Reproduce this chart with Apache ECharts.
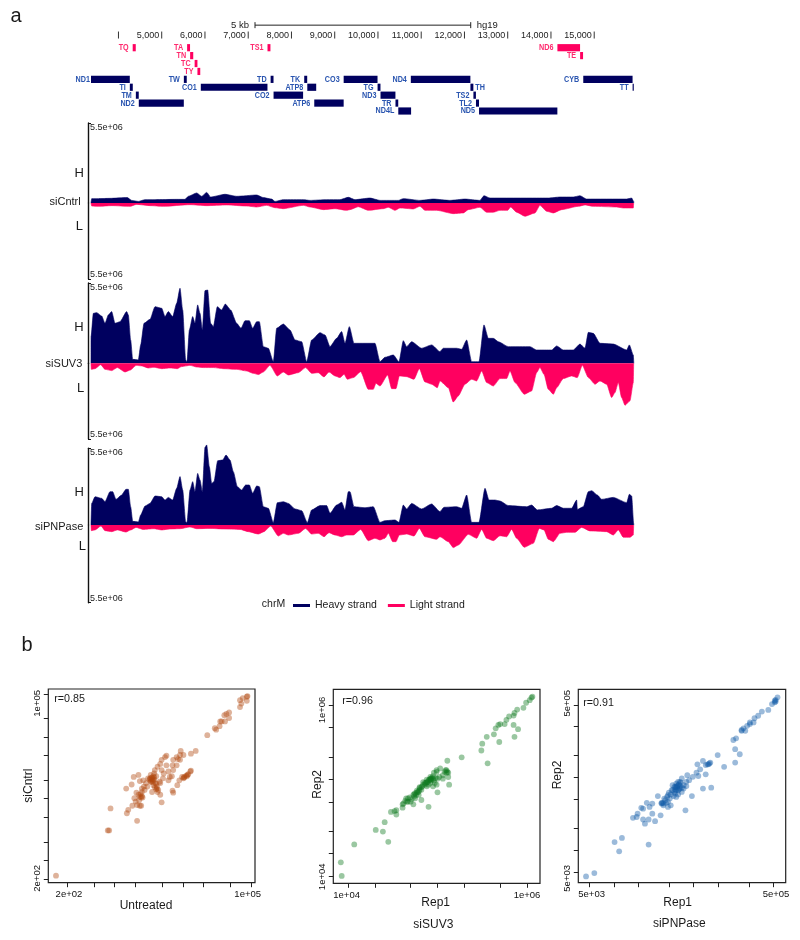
<!DOCTYPE html>
<html><head><meta charset="utf-8">
<style>html,body{margin:0;padding:0;background:#fff}#c{width:800px;height:940px}</style>
<script src="https://cdn.jsdelivr.net/npm/echarts@6/dist/echarts.min.js"></script>
</head><body><div id="c"></div>
<script>
// ---------- genome annotation (bp) : [name, start, end, row]
const lightGenes = [['TQ',4329,4400,0],['TA',5587,5655,0],['TN',5657,5729,1],['TC',5761,5826,2],['TY',5826,5891,3],['TS1',7446,7514,0],['ND6',14149,14673,0],['TE',14674,14742,1]];
const heavyGenes = [['ND1',3365,4262,4],['TW',5512,5579,4],['TD',7518,7585,4],['TK',8295,8364,4],['CO3',9207,9990,4],['ND4',10760,12137,4],['CYB',14747,15887,4],
 ['TI',4263,4331,5],['CO1',5904,7445,5],['ATP8',8366,8572,5],['TG',9991,10058,5],['TH',12138,12206,5],['TT',15888,15915,5],
 ['TM',4402,4469,6],['CO2',7586,8269,6],['ND3',10059,10404,6],['TS2',12207,12265,6],
 ['ND2',4470,5511,7],['ATP6',8527,9207,7],['TR',10405,10469,7],['TL2',12266,12336,7],
 ['ND4L',10470,10766,8],['ND5',12337,14148,8]];
const rulerTicks = [4000,5000,6000,7000,8000,9000,10000,11000,12000,13000,14000,15000];
const rulerLabels = ['','5,000','6,000','7,000','8,000','9,000','10,000','11,000','12,000','13,000','14,000','15,000'];
const scaleBar = [7157,12145];
const genomeMin = 3365, genomeMax = 15920;
const trackMax = 5.5; // millions of reads
const trackMaxLabel = '5.5e+06';

// ---------- coverage: [bp, millions]
const siCntrlHeavy = [[3365,0],[3381,.30],[3535,.30],[3804,.32],[4205,.37],[4305,.18],[4460,.11],[4614,.23],[4845,.23],[5346,.25],[5539,.25],[5616,.46],[5808,.69],[5924,.46],[6040,.73],[6132,.41],[6463,.60],[6733,.46],[7196,.55],[7350,.37],[7542,.27],[7619,.11],[7812,.23],[8274,.23],[8429,.18],[8814,.23],[9122,.23],[9315,.39],[9469,.23],[9816,.34],[10047,.18],[10471,.18],[10586,.30],[10972,.18],[11280,.27],[11665,.18],[12012,.27],[12359,.18],[12451,.50],[12590,.34],[13669,.34],[13940,.34],[14209,.41],[14517,.41],[14671,.50],[14825,.27],[15750,.27],[15866,.34],[15912,.11],[15915,0]];
const siCntrlLight = [[3365,0],[3381,.22],[3535,.24],[3843,.19],[4267,.24],[4421,.10],[4729,.19],[5038,.24],[5654,.12],[6040,.19],[6502,.14],[6964,.22],[7196,.29],[7427,.17],[7619,.34],[7812,.41],[8274,.17],[8429,.29],[8737,.48],[9007,.41],[9277,.53],[9353,.48],[9546,.27],[9777,.53],[10124,.41],[10240,.31],[10394,.53],[10509,.36],[10818,.43],[10972,.24],[11087,.53],[11357,.53],[11742,.77],[11974,.72],[12089,.48],[12359,.31],[12513,.67],[12667,.67],[12821,.53],[13000,.53],[13068,.29],[13207,.67],[13399,.96],[13631,.72],[13746,.17],[13900,.60],[14055,.72],[14247,.48],[14633,.24],[14787,.14],[14979,.24],[15519,.29],[15673,.36],[15904,.36],[15912,0]];
const siSUV3Heavy = [[3365,0],[3367,1.83],[3419,3.42],[3496,3.47],[3612,3.24],[3689,2.74],[3766,3.31],[3843,3.54],[3920,2.74],[4036,2.85],[4190,3.54],[4228,3.31],[4282,1.60],[4329,.27],[4460,.23],[4514,1.26],[4591,2.74],[4729,3.01],[4845,3.88],[5000,3.77],[5076,3.20],[5153,3.54],[5253,3.20],[5346,4.11],[5423,5.14],[5485,3.65],[5554,.23],[5585,.11],[5639,2.28],[5716,3.20],[5770,2.74],[5831,4.0],[5885,3.42],[5939,2.28],[6001,4.98],[6063,5.02],[6132,2.74],[6194,2.51],[6286,3.88],[6386,3.65],[6471,4.06],[6594,3.65],[6733,2.74],[6833,2.40],[6926,2.92],[7026,2.92],[7103,2.40],[7196,2.85],[7257,2.85],[7350,1.14],[7465,1.03],[7581,.11],[7658,2.40],[7812,2.69],[7966,2.28],[8082,1.60],[8236,1.48],[8352,.11],[8467,1.60],[8660,2.10],[8776,1.94],[8891,1.14],[9045,1.71],[9161,2.17],[9238,1.37],[9338,2.51],[9446,1.37],[9700,1.37],[9931,1.37],[10047,.11],[10162,.41],[10355,.57],[10486,.11],[10586,1.55],[10663,1.14],[10779,1.48],[11010,1.03],[11241,1.26],[11434,.80],[11511,1.03],[11819,1.03],[11935,.96],[12051,1.60],[12166,.11],[12336,.11],[12451,2.63],[12552,1.71],[12667,1.71],[12783,1.48],[13014,1.14],[13515,1.14],[13669,.91],[14016,.91],[14132,1.19],[14286,.91],[14517,.91],[14671,1.32],[14787,1.03],[14864,2.12],[14979,2.05],[15133,1.37],[15442,1.32],[15750,.91],[15812,1.26],[15904,.57],[15915,0]];
const siSUV3Light = [[3365,0],[3373,.44],[3458,.39],[3589,.10],[3689,.44],[3843,.53],[3974,.31],[4151,.63],[4282,.48],[4406,.15],[4537,.19],[4691,.34],[4822,.29],[5000,.39],[5192,.34],[5361,.39],[5461,.24],[5654,.15],[5808,.27],[5962,.31],[6194,.31],[6425,.39],[6733,.44],[6964,.56],[7118,.73],[7234,.82],[7350,.63],[7504,.15],[7673,.92],[7812,.63],[7928,.85],[8159,.68],[8328,.31],[8467,.73],[8621,.68],[8752,.99],[8868,.63],[9007,.92],[9122,1.04],[9216,.80],[9292,1.16],[9430,1.04],[9600,.61],[9777,1.89],[9893,1.89],[9954,1.45],[10047,1.65],[10224,.85],[10317,1.84],[10417,1.84],[10494,.92],[10663,.97],[10833,1.16],[10956,.39],[11087,1.36],[11241,1.52],[11372,1.77],[11434,1.28],[11627,1.77],[11742,2.81],[11858,2.37],[12012,1.52],[12166,1.16],[12282,1.28],[12398,.56],[12513,1.40],[12667,1.65],[12821,1.11],[12975,1.11],[13053,.56],[13168,1.40],[13384,2.25],[13553,2.01],[13669,.68],[13746,.31],[13839,.80],[13939,1.89],[14055,2.25],[14132,1.77],[14286,1.11],[14479,.92],[14609,1.04],[14725,.15],[14864,1.04],[15018,1.52],[15133,1.28],[15288,1.52],[15403,2.49],[15480,2.13],[15557,1.40],[15634,2.49],[15712,3.05],[15827,2.73],[15904,1.40],[15912,0]];
const siPNPaseHeavy = [[3365,0],[3381,1.55],[3458,2.03],[3612,1.91],[3689,1.67],[3804,2.39],[3866,2.39],[3943,1.84],[4074,2.15],[4174,2.56],[4228,2.56],[4282,1.31],[4329,.26],[4460,.22],[4514,.72],[4614,1.36],[4729,1.55],[4845,2.08],[5000,2.03],[5076,1.79],[5153,1.98],[5253,1.79],[5346,2.63],[5423,3.47],[5485,2.51],[5554,.24],[5585,.17],[5654,2.51],[5716,3.11],[5770,2.39],[5831,3.70],[5885,3.23],[5939,2.39],[6001,5.57],[6040,5.74],[6101,4.18],[6155,2.99],[6209,3.11],[6294,4.61],[6410,4.66],[6487,5.02],[6579,4.66],[6656,3.82],[6749,2.75],[6849,2.51],[6941,2.87],[7026,2.87],[7103,2.27],[7196,2.80],[7257,2.75],[7350,1.31],[7465,1.20],[7581,.17],[7673,1.60],[7812,1.67],[7928,1.55],[8082,1.15],[8236,1.03],[8367,.17],[8467,1.08],[8660,1.39],[8814,1.39],[8891,.84],[9045,1.43],[9161,1.63],[9238,1.08],[9315,2.39],[9353,2.39],[9446,1.31],[9700,1.24],[9893,1.31],[10047,.19],[10162,.31],[10394,.36],[10486,.19],[10586,1.43],[10663,1.15],[10779,1.55],[11010,1.15],[11241,1.51],[11434,.96],[11527,1.27],[11820,1.31],[11935,1.20],[12051,2.15],[12166,.19],[12336,.19],[12475,2.63],[12567,1.79],[12706,1.79],[12821,1.72],[13014,1.39],[13438,1.31],[13553,1.43],[13684,1.08],[14016,1.20],[14132,1.39],[14286,1.20],[14479,1.20],[14594,1.79],[14610,1.12],[14748,1.31],[14864,2.39],[14941,2.46],[15072,2.15],[15172,1.84],[15442,1.98],[15750,1.60],[15812,2.20],[15866,2.08],[15912,.12],[15915,0]];
const siPNPaseLight = [[3365,0],[3373,.40],[3458,.35],[3596,.07],[3689,.40],[3843,.47],[3974,.35],[4174,.50],[4282,.35],[4406,.17],[4575,.31],[4822,.26],[5000,.35],[5192,.28],[5423,.26],[5654,.14],[5808,.26],[6117,.24],[6425,.28],[6810,.31],[7003,.47],[7234,.64],[7365,.47],[7519,.07],[7697,.78],[7812,.59],[7928,.71],[8159,.59],[8328,.24],[8467,.64],[8621,.59],[8752,.83],[8868,.54],[9007,.71],[9161,.83],[9276,.71],[9430,.71],[9600,.31],[9777,1.11],[9931,.94],[10047,1.06],[10162,.94],[10240,.59],[10340,1.18],[10417,1.18],[10494,.71],[10663,.64],[10833,.78],[10956,.24],[11087,.83],[11357,1.01],[11434,.83],[11627,1.18],[11742,1.60],[11858,1.42],[12089,.66],[12282,.94],[12398,.31],[12513,.94],[12667,1.11],[12821,.76],[12975,.83],[13091,.31],[13207,.94],[13384,1.58],[13592,1.30],[13731,.24],[13839,.35],[13939,1.01],[14055,1.18],[14209,.59],[14363,.52],[14555,.52],[14709,.17],[14902,.42],[15288,.47],[15442,.71],[15557,.35],[15673,.87],[15827,.87],[15904,.71],[15912,0]];

// ---------- scatter panels: [log10 x, log10 y]
const untreatedPoints = [[2.14,2.35],[2.90,3.01],[2.92,3.01],[2.94,3.33],[3.20,3.31],[3.18,3.26],[3.33,3.15],[3.17,3.62],[3.25,3.68],[3.28,3.79],[3.35,3.82],[3.26,3.37],[3.29,3.48],[3.31,3.43],[3.33,3.38],[3.37,3.37],[3.39,3.37],[3.36,3.45],[3.41,3.49],[3.35,3.53],[3.38,3.54],[3.32,3.56],[3.40,3.62],[3.43,3.65],[3.46,3.70],[3.37,3.73],[3.42,3.74],[3.49,3.77],[3.52,3.77],[3.54,3.78],[3.57,3.80],[3.56,3.74],[3.53,3.72],[3.58,3.84],[3.59,3.89],[3.63,3.94],[3.67,3.98],[3.69,4.04],[3.74,4.08],[3.76,4.10],[3.61,3.69],[3.59,3.64],[3.62,3.62],[3.55,3.57],[3.63,3.57],[3.61,3.61],[3.67,3.70],[3.71,3.77],[3.66,3.72],[3.69,3.89],[3.79,3.87],[3.81,3.79],[3.84,3.80],[3.86,3.89],[3.85,3.96],[3.86,4.04],[3.91,4.08],[3.96,4.11],[3.97,4.17],[4.01,4.11],[3.93,4.05],[3.96,4.04],[3.91,3.96],[4.02,3.78],[4.06,3.80],[4.08,3.83],[4.11,3.87],[4.12,3.88],[4.01,3.77],[3.99,3.79],[3.92,3.67],[3.95,3.74],[3.85,3.59],[3.86,3.56],[3.69,3.42],[3.67,3.53],[4.12,4.13],[4.19,4.17],[4.36,4.40],[4.47,4.50],[4.49,4.48],[4.54,4.53],[4.55,4.60],[4.57,4.60],[4.61,4.69],[4.64,4.71],[4.68,4.73],[4.68,4.65],[4.62,4.60],[4.84,4.91],[4.88,4.94],[4.94,4.96],[4.95,4.97],[4.94,4.90],[4.86,4.86],[4.84,4.81],[3.54,3.72],[3.57,3.67],[3.51,3.75],[3.48,3.65],[3.44,3.60],[3.76,3.96],[3.72,3.84],[3.79,3.74],[3.53,3.82],[3.58,3.75],[3.61,3.80],[3.37,3.50],[3.40,3.57],[3.55,3.78],[3.56,3.76],[3.58,3.78],[3.53,3.75],[3.56,3.72],[3.60,3.70],[4.05,3.81],[4.07,3.82],[4.02,3.79],[3.40,3.51],[3.39,3.49],[3.62,3.65],[3.64,3.60]];
const suv3Points = [[3.93,4.00],[3.92,4.16],[4.07,4.37],[4.31,4.54],[4.39,4.52],[4.41,4.63],[4.45,4.40],[4.48,4.75],[4.52,4.76],[4.54,4.72],[4.54,4.77],[4.61,4.84],[4.61,4.80],[4.65,4.91],[4.67,4.87],[4.70,4.87],[4.73,4.84],[4.69,4.92],[4.73,4.95],[4.75,4.97],[4.77,5.00],[4.80,5.03],[4.82,5.04],[4.75,4.91],[4.79,4.95],[4.82,4.89],[4.90,4.81],[5.00,4.98],[5.13,5.07],[5.12,5.16],[5.10,5.24],[5.08,5.22],[5.06,5.14],[5.03,5.26],[4.99,5.22],[4.96,5.21],[4.92,5.16],[4.88,5.13],[4.84,5.10],[4.90,5.07],[4.95,5.05],[4.99,5.07],[5.00,5.14],[4.95,5.17],[4.93,5.14],[4.91,5.13],[4.89,5.10],[4.86,5.07],[4.83,5.05],[4.80,5.01],[4.77,4.98],[4.74,4.93],[4.71,4.90],[4.66,4.87],[4.62,4.85],[5.11,5.35],[5.27,5.39],[5.49,5.47],[5.50,5.55],[5.56,5.32],[5.55,5.63],[5.63,5.66],[5.69,5.57],[5.65,5.73],[5.68,5.77],[5.70,5.78],[5.75,5.78],[5.77,5.83],[5.80,5.87],[5.85,5.88],[5.86,5.91],[5.89,5.95],[5.85,5.77],[5.90,5.72],[5.86,5.63],[5.96,5.97],[5.99,6.03],[6.03,6.06],[6.05,6.09],[6.06,6.10],[5.02,5.16],[5.06,5.18],[4.97,5.09],[4.92,5.09],[4.88,5.05],[4.82,5.01],[4.79,4.99],[4.76,4.95],[4.67,4.91],[4.64,4.88],[5.09,5.24],[5.12,5.21],[4.99,5.24],[4.95,5.14],[4.92,5.13],[4.87,5.09],[4.84,5.07],[4.80,5.04],[4.90,5.12],[4.92,5.14],[4.94,5.15],[4.88,5.10],[4.86,5.09],[4.78,4.98],[4.74,4.96],[5.10,5.21],[5.11,5.22],[4.93,5.12],[4.96,5.12],[4.98,5.15]];
const pnpasePoints = [[3.66,3.65],[3.75,3.69],[3.97,4.06],[4.02,3.95],[4.05,4.11],[4.34,4.03],[4.17,4.35],[4.21,4.36],[4.22,4.40],[4.26,4.47],[4.28,4.46],[4.32,4.53],[4.35,4.48],[4.38,4.52],[4.38,4.40],[4.28,4.33],[4.30,4.28],[4.34,4.33],[4.41,4.31],[4.47,4.38],[4.44,4.61],[4.48,4.53],[4.50,4.50],[4.52,4.56],[4.51,4.58],[4.54,4.60],[4.55,4.62],[4.55,4.54],[4.55,4.48],[4.58,4.50],[4.56,4.65],[4.59,4.68],[4.60,4.74],[4.63,4.72],[4.64,4.76],[4.66,4.78],[4.68,4.78],[4.70,4.82],[4.61,4.61],[4.63,4.64],[4.64,4.68],[4.67,4.69],[4.70,4.71],[4.72,4.74],[4.75,4.78],[4.78,4.80],[4.76,4.86],[4.82,4.84],[4.86,4.89],[4.88,4.85],[4.90,4.93],[4.93,5.03],[4.87,4.99],[4.96,4.87],[4.96,4.98],[4.99,4.99],[5.01,5.01],[4.93,4.70],[5.02,4.71],[4.81,4.61],[4.74,4.44],[5.09,5.10],[5.16,4.96],[5.26,5.28],[5.29,5.30],[5.28,5.17],[5.33,5.11],[5.28,5.01],[5.35,5.40],[5.37,5.42],[5.39,5.39],[5.41,5.45],[5.44,5.49],[5.48,5.49],[5.49,5.54],[5.53,5.57],[5.57,5.62],[5.64,5.64],[5.68,5.71],[5.71,5.73],[5.72,5.76],[5.74,5.79],[5.71,5.75],[4.66,4.74],[4.68,4.73],[4.65,4.71],[4.63,4.69],[4.60,4.68],[4.58,4.63],[4.57,4.58],[4.53,4.53],[4.62,4.72],[4.72,4.70],[4.75,4.73],[4.70,4.66],[4.66,4.63],[4.64,4.60],[4.49,4.53],[4.48,4.52],[4.50,4.52],[4.67,4.75],[4.69,4.77],[4.65,4.73],[4.64,4.72],[4.66,4.68],[4.68,4.70],[4.62,4.66],[4.98,4.99],[5.00,5.00],[5.44,5.47],[5.35,5.39],[5.72,5.74]];

// ---------- scatter ticks (log10), and where the two end labels sit along the axis
const p1XTicks=[2.301,2.699,3,3.301,3.699,4,4.301,4.699,5], p1YTicks=[2.301,2.568,2.84,3.2,3.473,3.745,4.1,4.373,4.645,5], p1XLabels=['2e+02','1e+05'], p1YLabels=['2e+02','1e+05'];
const p1XLabelAt=[2.33,4.953], p1YLabelAt=[2.31,4.864];
const p2XTicks=[4,4.301,4.699,5,5.301,5.699,6], p2YTicks=[4,4.262,4.52,4.867,5.133,5.391,5.738,6], p2XLabels=['1e+04','1e+06'], p2YLabels=['1e+04','1e+06'];
const p2XLabelAt=[3.985,6], p2YLabelAt=[3.99,5.945];
const p3XTicks=[3.699,3.963,4.224,4.565,4.829,5.094,5.435,5.699], p3YTicks=[3.699,3.962,4.225,4.572,4.834,5.093,5.44,5.699], p3XLabels=['5e+03','5e+05'], p3YLabels=['5e+03','5e+05'];
const p3XLabelAt=[3.721,5.724], p3YLabelAt=[3.627,5.719];

// ---------- styles
const FONT='"Liberation Sans",Arial,sans-serif', NAVY='#00005f', PINK='#ff0060', GENE_BLUE='#2a55b0', GENE_PINK='#ff2a6e', INK='#222';
const TRACK_LEFT=91, TRACK_WIDTH=543;
const grids=[], xAxes=[], yAxes=[], series=[];
function addGrid(g,x,y){grids.push(g);xAxes.push(Object.assign({gridIndex:grids.length-1},x));yAxes.push(Object.assign({gridIndex:grids.length-1},y));return grids.length-1;}
const hiddenX={type:'value',min:genomeMin,max:genomeMax,show:false};

function addStrand(top,height,data,name,color,inverse,labelAlign){
  const i=addGrid({left:TRACK_LEFT,width:TRACK_WIDTH,top,height},hiddenX,{
    type:'value',min:0,max:trackMax,inverse,offset:3,position:'left',splitLine:{show:false},
    axisLine:{show:true,onZero:false,lineStyle:{color:'#111',width:1.4}},
    axisTick:{show:true,inside:true,length:3,customValues:[trackMax],lineStyle:{color:'#111',width:1}},
    axisLabel:{show:true,inside:true,margin:2,customValues:[trackMax],formatter:()=>trackMaxLabel,fontSize:9,fontFamily:FONT,color:INK,verticalAlign:labelAlign}
  });
  series.push({type:'line',name,xAxisIndex:i,yAxisIndex:i,data,showSymbol:false,symbol:'none',clip:false,silent:true,animation:false,
    smooth:.2,smoothMonotone:'x',
    lineStyle:{color,width:.6},itemStyle:{color},areaStyle:{color,opacity:1}});
}
addStrand(123,80,siCntrlHeavy,'Heavy strand',NAVY,false,'top');
addStrand(203,76,siCntrlLight,'Light strand',PINK,true,'bottom');
addStrand(283,80.3,siSUV3Heavy,'Heavy strand',NAVY,false,'top');
addStrand(363.3,75.7,siSUV3Light,'Light strand',PINK,true,'bottom');
addStrand(448.3,76.7,siPNPaseHeavy,'Heavy strand',NAVY,false,'top');
addStrand(525,77.7,siPNPaseLight,'Light strand',PINK,true,'bottom');

// genome annotation grid: rows 0..8 map onto y 47.7..111
const ag=addGrid({left:TRACK_LEFT,width:TRACK_WIDTH,top:47.7,height:63.3},hiddenX,{type:'value',min:0,max:8,inverse:true,show:false});
function geneItem(color,labelColor){return (params,api)=>{
  const name=api.value(3), s=api.coord([api.value(0),api.value(2)]), e=api.coord([api.value(1),api.value(2)]);
  const after=name==='TH', gap=name==='ND1'?1:4;
  return {type:'group',children:[
    {type:'rect',shape:{x:s[0],y:s[1]-3.6,width:e[0]-s[0],height:7.2},style:{fill:color}},
    {type:'text',x:after?e[0]+2:s[0]-gap,y:s[1],scaleX:.8,style:{x:0,y:0,text:name,align:after?'left':'right',verticalAlign:'middle',
      font:'bold 9px "Liberation Sans",sans-serif',fill:labelColor}}
  ]};
};}
const geneData=a=>a.map(g=>[g[1],g[2],g[3],g[0]]);
series.push({type:'custom',xAxisIndex:ag,yAxisIndex:ag,clip:false,silent:true,animation:false,data:geneData(lightGenes),encode:{x:[0,1],y:2},renderItem:geneItem(PINK,GENE_PINK)});
series.push({type:'custom',xAxisIndex:ag,yAxisIndex:ag,clip:false,silent:true,animation:false,data:geneData(heavyGenes),encode:{x:[0,1],y:2},renderItem:geneItem(NAVY,GENE_BLUE)});
series.push({type:'custom',xAxisIndex:ag,yAxisIndex:ag,clip:false,silent:true,animation:false,data:rulerTicks.map((b,i)=>[b,rulerLabels[i]]),encode:{x:0},
  renderItem:(p,api)=>{const c=api.coord([api.value(0),-1.6]);return {type:'group',children:[
    {type:'line',shape:{x1:c[0],y1:c[1]-3.5,x2:c[0],y2:c[1]+3.5},style:{stroke:'#333',lineWidth:1}},
    {type:'text',style:{x:c[0]-2.5,y:c[1],text:rulerLabels[p.dataIndex],align:'right',verticalAlign:'middle',font:'9px '+FONT,fill:INK}}]};}});
series.push({type:'custom',xAxisIndex:ag,yAxisIndex:ag,clip:false,silent:true,animation:false,data:[scaleBar],encode:{x:[0,1]},
  renderItem:(p,api)=>{const a=api.coord([api.value(0),-2.85]),b=api.coord([api.value(1),-2.85]);return {type:'group',children:[
    {type:'line',shape:{x1:a[0],y1:a[1],x2:b[0],y2:b[1]},style:{stroke:'#222',lineWidth:1}},
    {type:'line',shape:{x1:a[0],y1:a[1]-3,x2:a[0],y2:a[1]+3},style:{stroke:'#222',lineWidth:1}},
    {type:'line',shape:{x1:b[0],y1:b[1]-3,x2:b[0],y2:b[1]+3},style:{stroke:'#222',lineWidth:1}},
    {type:'text',style:{x:a[0]-6,y:a[1],text:'5 kb',align:'right',verticalAlign:'middle',font:'9.5px '+FONT,fill:INK}},
    {type:'text',style:{x:b[0]+6,y:a[1],text:'hg19',align:'left',verticalAlign:'middle',font:'9.5px '+FONT,fill:INK}}]};}});

// scatter panels
function panel(g,xr,yr,xT,yT,xL,yL,xAt,yAt,data,color){
  const ends=(at,l)=>v=>v===at[0]?l[0]:(v===at[1]?l[1]:'');
  const base=(t,at,l,extra)=>Object.assign({type:'value',splitLine:{show:false},axisLine:{show:false},
    axisTick:{show:true,length:4.5,customValues:t,lineStyle:{color:'#222',width:1}},
    axisLabel:{show:true,customValues:at,formatter:ends(at,l),fontSize:9.5,fontFamily:FONT,color:'#111',margin:7,showMinLabel:true,showMaxLabel:true,hideOverlap:false}},extra);
  const i=addGrid(Object.assign({show:true,borderColor:'#222',borderWidth:1.2,backgroundColor:'transparent'},g),
    base(xT,xAt,xL,{min:xr[0],max:xr[1]}),base(yT,yAt,yL,{min:yr[0],max:yr[1]}));
  yAxes[i].axisLabel.rotate=90; yAxes[i].axisLabel.margin=6;
  series.push({type:'scatter',xAxisIndex:i,yAxisIndex:i,data,symbolSize:5.8,silent:true,animation:false,itemStyle:{color,opacity:.42,borderWidth:0}});
}
panel({left:48.3,width:206.7,top:689,height:193.7},[2.027,5.06],[2.247,5.073],p1XTicks,p1YTicks,p1XLabels,p1YLabels,p1XLabelAt,p1YLabelAt,untreatedPoints,'#b0470f');
panel({left:333.3,width:206.7,top:689.3,height:194},[3.836,6.145],[3.914,6.1875],p2XTicks,p2YTicks,p2XLabels,p2YLabels,p2XLabelAt,p2YLabelAt,suv3Points,'#0f7a1f');
panel({left:578.3,width:207.4,top:689.3,height:193.4},[3.576,5.829],[3.575,5.886],p3XTicks,p3YTicks,p3XLabels,p3YLabels,p3XLabelAt,p3YLabelAt,pnpasePoints,'#115aa8');

const T=(text,x,y,size,align,rot)=>({type:'text',x,y,rotation:rot||0,silent:true,style:{text,fontSize:size,fontFamily:FONT,fill:'#1a1a1a',align:align||'center',verticalAlign:'middle'}});
const texts=[
 T('a',16,16,20),T('b',27,645,20),
 T('H',79.3,173.3,13),T('siCntrl',80.7,202.3,11,'right'),T('L',79.3,226,13),
 T('H',79,327.7,13),T('siSUV3',82.3,364.3,11,'right'),T('L',80.7,388,13),
 T('H',79.3,492.3,13),T('siPNPase',83.3,527.3,11,'right'),T('L',82.3,546.7,13),
 T('chrM',273.5,604.3,10.5),
 T('Untreated',146,905.7,12),T('siCntrl',28.3,785.7,12,'center',Math.PI/2),T('r=0.85',54.3,699.3,10.7,'left'),
 T('Rep1',435.7,902.3,12),T('siSUV3',433.3,924.3,12),T('Rep2',317.3,784.3,12,'center',Math.PI/2),T('r=0.96',342.3,701,10.7,'left'),
 T('Rep1',677.7,902.3,12),T('siPNPase',679.3,923.3,12),T('Rep2',557.3,775,12,'center',Math.PI/2),T('r=0.91',583.3,702.7,10.7,'left')
];

echarts.init(document.getElementById('c'),null,{renderer:'canvas'}).setOption({
  animation:false,backgroundColor:'#fff',
  grid:grids,xAxis:xAxes,yAxis:yAxes,series,
  legend:{show:true,left:293,top:600,selectedMode:false,icon:'rect',itemWidth:17,itemHeight:3,itemGap:11,padding:0,
    data:['Heavy strand','Light strand'],textStyle:{fontSize:10.5,fontFamily:FONT,color:'#1a1a1a',padding:[0,0,0,0]}},
  graphic:{elements:texts}
});
</script></body></html>
